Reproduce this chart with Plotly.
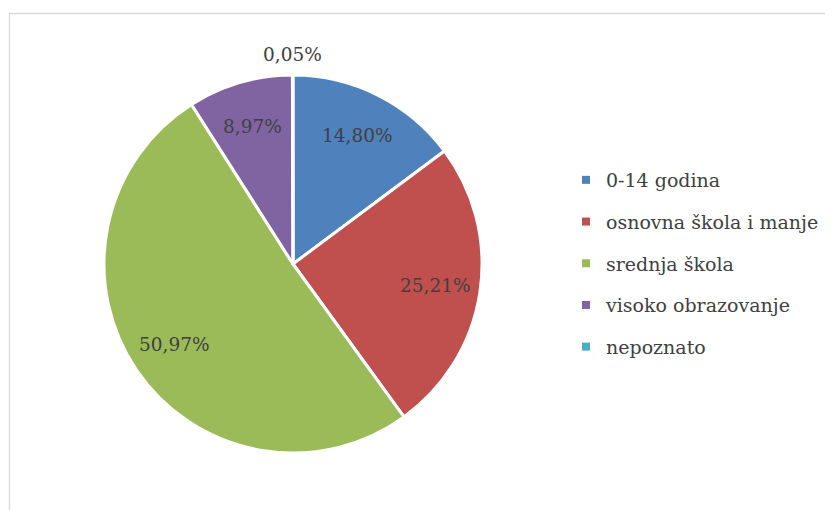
import math
import plotly.graph_objects as go

# ---- data ----
categories = ["0-14 godina", "osnovna škola i manje", "srednja škola",
              "visoko obrazovanje", "nepoznato"]
values = [14.80, 25.21, 50.97, 8.97, 0.05]
colors = ["#4F81BD", "#C0504D", "#9BBB59", "#8064A2", "#4BACC6"]
labels_text = [f"{v:.2f}%".replace(".", ",") for v in values]

W, H = 833, 510
OFF = 8  # page body margin offset
CX, CY, R = 293 - OFF, 264 - OFF, 189  # pie centre / radius in px
FONT = "DejaVu Serif"
TXT = "#404040"

fig = go.Figure()

fig.add_trace(go.Pie(
    labels=categories, values=values, sort=False, direction="clockwise",
    rotation=0, marker=dict(colors=colors, line=dict(color="white", width=3)),
    textinfo="none", hoverinfo="label+percent", showlegend=False,
    domain=dict(x=[(CX - R) / W, (CX + R) / W], y=[(H - CY - R) / H, (H - CY + R) / H]),
))

# data labels along each slice bisector
total = sum(values)
cum = 0.0
annotations = []
for v, t in zip(values, labels_text):
    mid = (cum + v / 2) / total * 2 * math.pi
    cum += v
    rr = 0.76 * R if v > 1 else R + 21
    px = CX + rr * math.sin(mid)
    py = CY - rr * math.cos(mid)
    annotations.append(dict(x=px / W, y=1 - py / H, xref="paper", yref="paper",
                            text=t, showarrow=False, xanchor="center", yanchor="middle",
                            font=dict(family=FONT, size=18.5, color=TXT)))

# legend entries (separate groups for Excel-like spacing)
for i, (c, col) in enumerate(zip(categories, colors)):
    fig.add_trace(go.Scatter(x=[None], y=[None], mode="markers", name=c,
                             marker=dict(symbol="square", size=8, color=col),
                             legendgroup=f"g{i}", showlegend=True))

fig.update_layout(
    width=W, height=H, margin=dict(l=0, r=0, t=0, b=0),
    paper_bgcolor="white", plot_bgcolor="white",
    xaxis=dict(visible=False), yaxis=dict(visible=False),
    annotations=annotations,
    legend=dict(x=(576 - 18) / W, y=1 - (166 - 13) / H,
                xanchor="left", yanchor="top",
                font=dict(family=FONT, size=19, color=TXT),
                tracegroupgap=14, itemwidth=30, bgcolor="rgba(0,0,0,0)"),
    shapes=[dict(type="rect", xref="paper", yref="paper",
                 x0=(9.5 - OFF) / W, x1=1.05, y0=-0.05, y1=1 - (13.5 - OFF) / H,
                 line=dict(color="#D9D9D9", width=1.3), fillcolor="rgba(0,0,0,0)",
                 layer="below")],
)

fig.write_html("out.html")
